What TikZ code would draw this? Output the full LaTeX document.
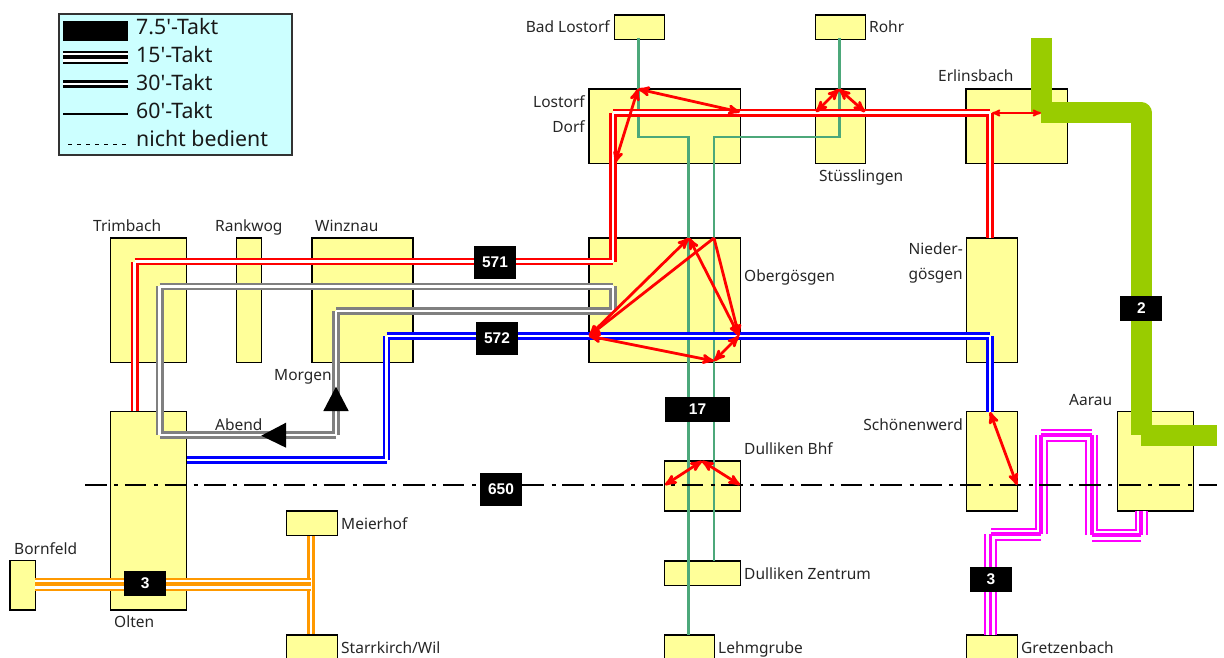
\documentclass[tikz,border=0pt]{standalone}
\usepackage{fontspec}
\setmainfont{Noto Sans}
\setsansfont{Liberation Sans}
\usetikzlibrary{arrows}
\definecolor{mystation}{RGB}{255,255,153}
\definecolor{mylegend}{RGB}{204,255,255}
\definecolor{mygreen}{RGB}{76,168,122}
\definecolor{myorange}{RGB}{255,153,0}
\definecolor{mylime}{RGB}{153,204,0}
\definecolor{mypink}{RGB}{255,0,255}
\definecolor{myred}{RGB}{255,0,0}
\definecolor{myblue}{RGB}{0,0,255}
\definecolor{mygray}{RGB}{128,128,128}
\tikzstyle{station}=[draw,fill=mystation,rectangle,line width=1.3pt,inner sep=0pt]
\tikzstyle{place}=[inner sep=0pt,text=black!85,font=\fontsize{15.5}{25}\selectfont]
\tikzstyle{linebox}=[fill=black,text=white,inner sep=0pt,minimum width=42pt,minimum height=25pt,font=\sffamily\bfseries\fontsize{15.5}{15}\selectfont]
\tikzstyle{legendtext}=[anchor=base west,inner sep=0pt,text=black!90,font=\fontsize{21.3}{20}\selectfont]
\tikzstyle{takt60}=[draw=mygreen,line width=2.4pt]
\tikzstyle{takt30}=[line width=2.6pt,double=white,double distance=2.5pt]
\tikzstyle{takt15}=[line width=2pt,double=white,double distance=9pt]
\tikzstyle{takt15mid}=[line width=3.8pt]
\tikzstyle{turn}=[draw=myred,line width=2.8pt,<->,>=stealth']
\tikzstyle{abschnitt}=[draw=mylime,line width=21pt,line join=round]
\begin{document}
\begin{tikzpicture}[x=1pt,y=-1pt]
\useasboundingbox (0,0) rectangle (1224,658);
% legend
\draw (175.5, 84.5) node [draw=black!80,fill=mylegend,line width=1.3pt,minimum width=233pt,minimum height=141pt,inner sep=0pt] (legend) {};
\fill (63,21) rectangle (128,41);
\draw[takt15,black] (63,57.3) -- (128,57.3);
\draw[takt15mid,black] (63,57.3) -- (128,57.3);
\draw[takt30,black] (63,84.2) -- (128,84.2);
\draw[line width=1.6pt] (63,114.3) -- (128,114.3);
\draw[line width=1pt,dash pattern=on 4pt off 5pt] (68,145) -- (128,145);
\node [legendtext] (l75) at (136,35) {7.5\textquotesingle-Takt};
\node [legendtext] (l15) at (136,63) {15\textquotesingle-Takt};
\node [legendtext] (l30) at (136,91) {30\textquotesingle-Takt};
\node [legendtext] (l60) at (136,119) {60\textquotesingle-Takt};
\node [legendtext] (l00) at (136,147) {nicht bedient};
% stations
\draw (639.3, 27.2) node [station,minimum width=50pt,minimum height=24.3pt] (badlostorf) {};
\draw (840.7, 27.2) node [station,minimum width=50pt,minimum height=24.3pt] (rohr) {};
\draw (664.7, 126.2) node [station,minimum width=151.3pt,minimum height=74.3pt] (lostorf) {};
\draw (840.7, 126.2) node [station,minimum width=50pt,minimum height=74.3pt] (stuesslingen) {};
\draw (1016.7, 126.2) node [station,minimum width=101.3pt,minimum height=74.3pt] (erlinsbach) {};
\draw (148.5, 300) node [station,minimum width=76.4pt,minimum height=124.3pt] (trimbach) {};
\draw (249, 300) node [station,minimum width=25.4pt,minimum height=124.3pt] (rankwog) {};
\draw (362.5, 300) node [station,minimum width=101pt,minimum height=124.3pt] (winznau) {};
\draw (664.7, 300) node [station,minimum width=151.3pt,minimum height=124.3pt] (obergoesgen) {};
\draw (991.7, 300) node [station,minimum width=51pt,minimum height=124.3pt] (niedergoesgen) {};
\draw (148.5, 510.9) node [station,minimum width=76.4pt,minimum height=198.3pt] (olten) {};
\draw (991.8, 461.4) node [station,minimum width=51pt,minimum height=99.3pt] (schoenenwerd) {};
\draw (1155.3, 461.4) node [station,minimum width=76pt,minimum height=99.3pt] (aarau) {};
\draw (702.5, 486) node [station,minimum width=76.4pt,minimum height=50pt] (dullikenbhf) {};
\draw (702.5, 573) node [station,minimum width=76.4pt,minimum height=24.3pt] (dullikenz) {};
\draw (689.2, 647.2) node [station,minimum width=50pt,minimum height=24.3pt] (lehmgrube) {};
\draw (312, 523.4) node [station,minimum width=50.6pt,minimum height=24.6pt] (meierhof) {};
\draw (312, 647.2) node [station,minimum width=50.6pt,minimum height=24.3pt] (starrkirch) {};
\draw (22.7, 585.2) node [station,minimum width=25.3pt,minimum height=49.7pt] (bornfeld) {};
\draw (991.8, 647.2) node [station,minimum width=51pt,minimum height=24.3pt] (gretzenbach) {};
% labels
\node [place,anchor=base east] (tbadlostorf) at (610,33) {Bad Lostorf};
\node [place,anchor=base west] (trohr) at (869,33) {Rohr};
\node [place,anchor=east,align=right] (tlostorf) at (585,114) {Lostorf\\Dorf};
\node [place,anchor=base west] (tstuesslingen) at (819,182) {Stüsslingen};
\node [place,anchor=base west] (terlinsbach) at (938,82) {Erlinsbach};
\node [place,anchor=base west] (ttrimbach) at (93,231) {Trimbach};
\node [place,anchor=base west] (trankwog) at (215,231) {Rankwog};
\node [place,anchor=base west] (twinznau) at (315,231) {Winznau};
\node [place,anchor=base west] (tobergoesgen) at (744,281) {Obergösgen};
\node [place,anchor=east,align=right] (tniedergoesgen) at (963,263) {Nieder-\\gösgen};
\node [place,anchor=base west] (tmorgen) at (274,380) {Morgen};
\node [place,anchor=base west] (tabend) at (215,430) {Abend};
\node [place,anchor=base east] (tschoenenwerd) at (963,430) {Schönenwerd};
\node [place,anchor=base west] (taarau) at (1069,405) {Aarau};
\node [place,anchor=base west] (tdullikenbhf) at (744,454) {Dulliken Bhf};
\node [place,anchor=base west] (tmeierhof) at (341,529) {Meierhof};
\node [place,anchor=base west] (tbornfeld) at (14,554) {Bornfeld};
\node [place,anchor=base west] (tolten) at (114,627) {Olten};
\node [place,anchor=base west] (tdullikenz) at (744,579) {Dulliken Zentrum};
\node [place,anchor=base west] (tlehmgrube) at (718,653) {Lehmgrube};
\node [place,anchor=base west] (tstarrkirch) at (341,653) {Starrkirch/Wil};
\node [place,anchor=base west] (tgretzenbach) at (1021,653) {Gretzenbach};
% route points
\coordinate (g1) at (638.5,38);
\coordinate (g2) at (638.5,137);
\coordinate (g3) at (688.5,137);
\coordinate (g4) at (688.5,635);
\coordinate (g5) at (839.3,38);
\coordinate (g6) at (839.3,137);
\coordinate (g7) at (713.7,137);
\coordinate (g8) at (713.7,561);
\coordinate (r1) at (134.7,411);
\coordinate (r2) at (134.7,261.5);
\coordinate (r3) at (613,261.5);
\coordinate (r4) at (613,112.7);
\coordinate (r5) at (990.2,112.7);
\coordinate (r6) at (990.2,238);
\coordinate (b1) at (186.7,460);
\coordinate (b2) at (386.5,460);
\coordinate (b3) at (386.5,336);
\coordinate (b4) at (990.2,336);
\coordinate (b5) at (990.2,411.7);
\coordinate (s1) at (159.7,286.4);
\coordinate (s2) at (613,286.4);
\coordinate (s3) at (613,311);
\coordinate (s4) at (336,311);
\coordinate (s5) at (336,435);
\coordinate (s6) at (159.7,435);
\coordinate (m1) at (1141.3,511);
\coordinate (m2) at (1141.3,535);
\coordinate (m3) at (1091.7,535);
\coordinate (m4) at (1091.7,435);
\coordinate (m5) at (1041,435);
\coordinate (m6) at (1041,534.3);
\coordinate (m7) at (990.5,534.3);
\coordinate (m8) at (990.5,635);
\coordinate (o1) at (35.3,584);
\coordinate (o2) at (310.8,584);
\coordinate (a1) at (1041,38);
\coordinate (a2) at (1041,113);
\coordinate (a3) at (1141.3,113);
\coordinate (a4) at (1141.3,435.3);
\coordinate (a5) at (1217,435.3);
\coordinate (t1) at (638,89);
\coordinate (t2) at (740,112);
\coordinate (t3) at (615,163);
\coordinate (t4) at (839,89);
\coordinate (t5) at (816,112);
\coordinate (t6) at (865,112);
\coordinate (t7) at (992,113);
\coordinate (t8) at (1041,113);
\coordinate (t9) at (689,238);
\coordinate (t10) at (714,238);
\coordinate (t11) at (589,336);
\coordinate (t12) at (739,336);
\coordinate (t13) at (714,361);
\coordinate (t14) at (702,461);
\coordinate (t15) at (665,485);
\coordinate (t16) at (740,485);
\coordinate (t17) at (990,412);
\coordinate (t18) at (1017,485);
\coordinate (d1) at (85,485);
\coordinate (d2) at (1217,485);
% green
\draw[takt60] (g1) -- (g2) -- (g3) -- (g4);
\draw[takt60] (g5) -- (g6) -- (g7) -- (g8);
% orange
\draw[takt30,draw=myorange] (meierhof.south -| o2) -- (starrkirch.north -| o2);
\draw[takt15,draw=myorange] (o1) -- (o2);
\draw[takt15mid,draw=myorange] (o1) -- (o2);
% grey
\draw[takt30,draw=mygray] (s1) -- (s2) (s2) -- (s3) (s3) -- (s4) (s4) -- (s5) (s5) -- (s6) (s6) -- (s1);
% red
\draw[takt30,draw=myred] (r1) -- (r2) (r2) -- (r3) (r3) -- (r4) (r4) -- (r5) (r5) -- (r6);
% blue
\draw[takt30,draw=myblue] (b1) -- (b2) (b2) -- (b3) (b3) -- (b4) (b4) -- (b5);
% pink
\draw[takt15,draw=mypink] (m1) -- (m2) (m2) -- (m3) (m3) -- (m4) (m4) -- (m5) (m5) -- (m6) (m6) -- (m7) (m7) -- (m8);
\draw[takt15mid,draw=mypink] (m1) -- (m2) (m2) -- (m3) (m3) -- (m4) (m4) -- (m5) (m5) -- (m6) (m6) -- (m7) (m7) -- (m8);
% dash dot
\draw[line width=2.6pt,dash pattern=on 21.5pt off 7.6pt on 4pt off 6.67pt] (d1) -- (d2);
% lime
\draw[abschnitt] (a1) -- (a2);
\draw[abschnitt] (a2) -- (a3) -- (a4);
\draw[abschnitt] (a4) -- (a5);
% turnarounds
\draw[turn] (t1) -- (t2);
\draw[turn] (t1) -- (t3);
\draw[turn] (t4) -- (t5);
\draw[turn] (t4) -- (t6);
\draw[turn,line width=1.8pt] (t7) -- (t8);
\draw[turn] (t9) -- (t11);
\draw[turn,->] (t10) -- (t11);
\draw[turn] (t9) -- (t12);
\draw[turn,->] (t10) -- (t12);
\draw[turn] (t11) -- (t13);
\draw[turn] (t13) -- (t12);
\draw[turn] (t14) -- (t15);
\draw[turn] (t14) -- (t16);
\draw[turn] (t17) -- (t18);
% direction marks
\coordinate (h1) at (336,386.7);
\coordinate (h2) at (323.3,411);
\coordinate (h3) at (348.7,411);
\coordinate (h4) at (261.3,435.7);
\coordinate (h5) at (286,422.7);
\coordinate (h6) at (286,447.7);
\fill (h1) -- (h2) -- (h3) -- cycle;
\fill (h4) -- (h5) -- (h6) -- cycle;
% line numbers
\draw (495, 262.5) node [linebox,minimum height=33pt] (n571) {571};
\draw (497, 338.5) node [linebox,minimum height=33pt] (n572) {572};
\draw (697.5, 409.5) node [linebox,minimum width=65pt] (n17) {17};
\draw (501, 489.5) node [linebox,minimum height=33pt] (n650) {650};
\draw (145.3, 583.4) node [linebox] (n3a) {3};
\draw (991, 579.5) node [linebox] (n3b) {3};
\draw (1141.4, 308.5) node [linebox] (n2) {2};
\end{tikzpicture}
\end{document}
